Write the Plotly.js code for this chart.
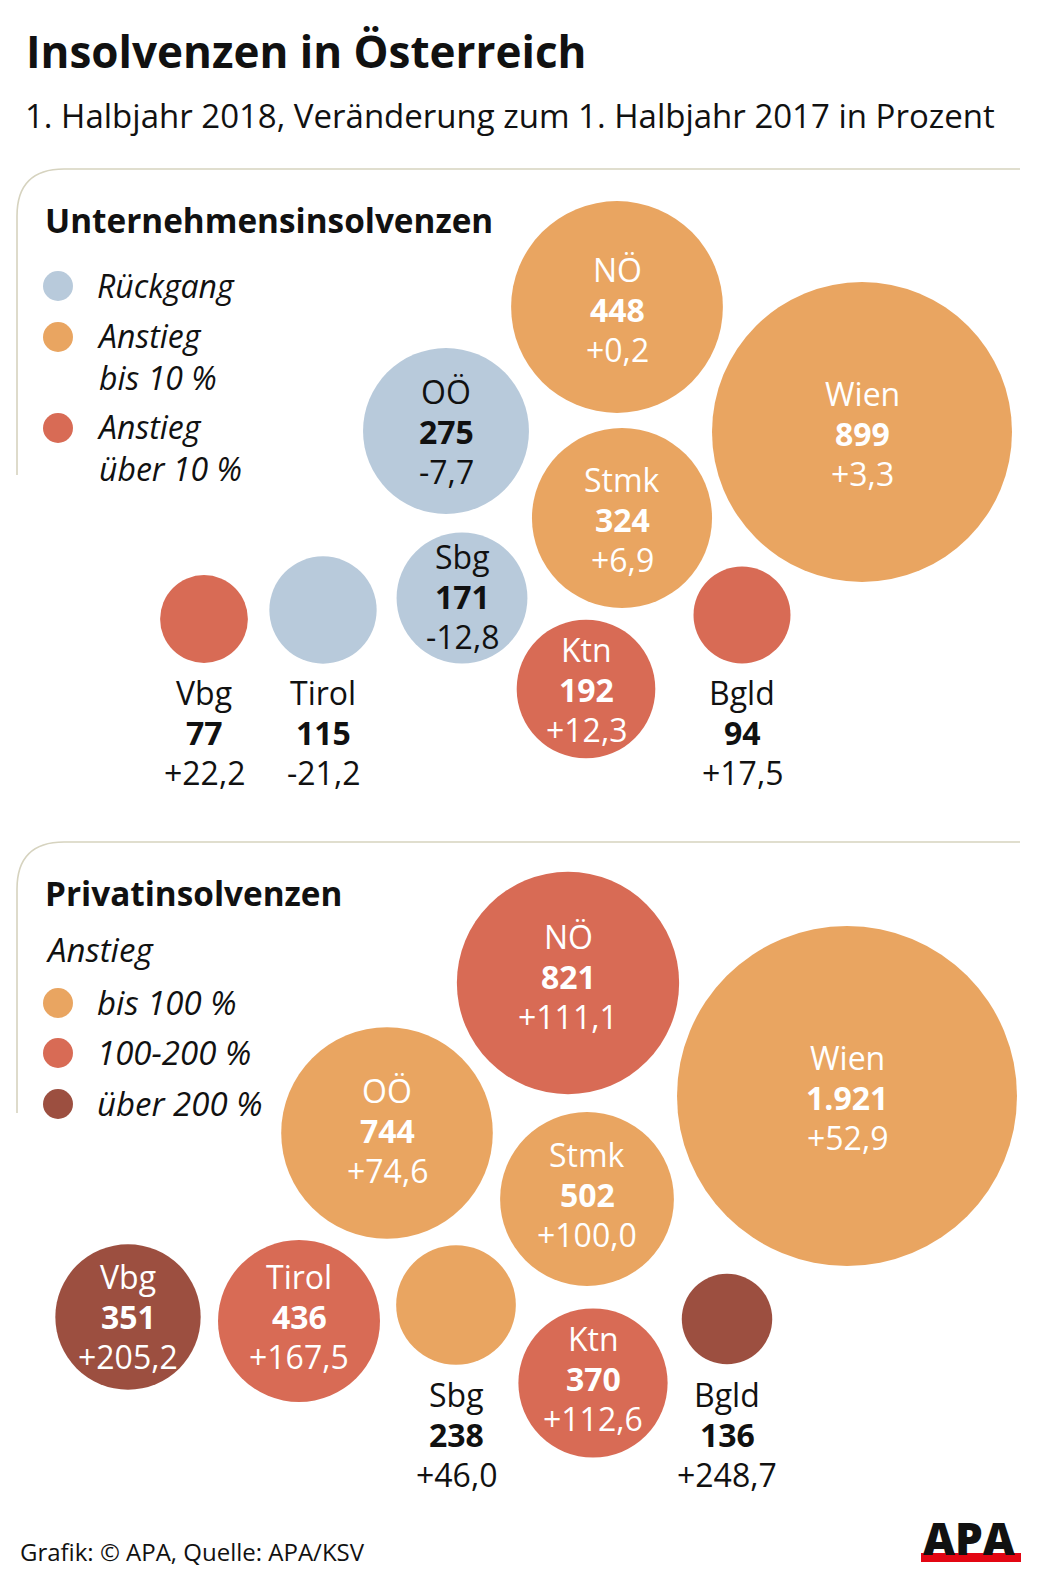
<!DOCTYPE html>
<html><head><meta charset="utf-8">
<script src="https://cdn.plot.ly/plotly-3.0.1.min.js"></script>
<style>html,body{margin:0;padding:0;background:#fff}#chart{width:1040px;height:1581px}</style>
</head><body><div id="chart"></div>
<script>
// ---------- data ----------
const regions = ['Wien','NÖ','OÖ','Stmk','Sbg','Ktn','Tirol','Vbg','Bgld'];
const firmCount = [899,448,275,324,171,192,115,77,94];
const firmChange = [3.3,0.2,-7.7,6.9,-12.8,12.3,-21.2,22.2,17.5];
const privCount = [1921,821,744,502,238,370,436,351,136];
const privChange = [52.9,111.1,74.6,100.0,46.0,112.6,167.5,205.2,248.7];

const titleText = 'Insolvenzen in Österreich';
const subtitleText = '1. Halbjahr 2018, Veränderung zum 1. Halbjahr 2017 in Prozent';
const firmHeading = 'Unternehmensinsolvenzen';
const privHeading = 'Privatinsolvenzen';
const firmLegend = [['Rückgang'],['Anstieg','bis 10 %'],['Anstieg','über 10 %']];
const privLegendTitle = 'Anstieg';
const privLegend = ['bis 100 %','100-200 %','über 200 %'];
const sourceText = 'Grafik: © APA, Quelle: APA/KSV';

// ---------- layout (pixel positions, styles) ----------
const W = 1040, H = 1581;
const FONT = '"Open Sans", "Noto Sans", sans-serif';
const C = {blue:'#b8cadb', orange:'#e9a561', red:'#d86b55', dark:'#9c4f40'};
const firmPos = {
  x:[862,617,446,622,462,586,323,204,742],
  y:[432,307,431,518,598,689,610,619,615],
  ly:[433,309,431,519,596,689,732,732,732],
  inside:[1,1,1,1,1,1,0,0,0]
};
const privPos = {
  x:[847,568,387,587,456,593,299,128,727],
  y:[1096,983,1133,1199,1305,1383,1321,1317,1319],
  ly:[1097,976,1130,1194,1434,1378,1316,1316,1434],
  inside:[1,1,1,1,0,1,1,1,0]
};
const firmScale = 300/Math.sqrt(899);
const privScale = 340/Math.sqrt(1921);
const LINE = 40;

function firmColor(c){ return c < 0 ? C.blue : (c <= 10 ? C.orange : C.red); }
function privColor(c){ return c <= 100 ? C.orange : (c <= 200 ? C.red : C.dark); }
function fmtCount(v){ return String(v).replace(/\B(?=(\d{3})+(?!\d))/g, '.'); }
function fmtChange(v){ return (v >= 0 ? '+' : '-') + Math.abs(v).toFixed(1).replace('.', ','); }

const annotations = [];
function txt(x, y, text, size, opts){
  opts = opts || {};
  annotations.push({
    x:x, y:y, xref:'x', yref:'y', text:text, showarrow:false,
    xanchor: opts.xanchor || 'center', yanchor:'middle', align: opts.xanchor || 'center',
    font:{family:FONT, size:size, color: opts.color || '#111', weight: opts.weight || 400, style: opts.style || 'normal'}
  });
}

function bubbleTrace(counts, changes, pos, scale, colorFn){
  const colors = changes.map(colorFn);
  counts.forEach((v, i) => {
    const col = pos.inside[i] ? (colors[i] === C.blue ? '#111' : '#fff') : '#111';
    const lx = pos.x[i], ly = pos.ly[i];
    txt(lx, ly - LINE, regions[i], 32, {color:col});
    txt(lx, ly, fmtCount(v), 32, {color:col, weight:700});
    txt(lx, ly + LINE, fmtChange(changes[i]), 32, {color:col});
  });
  return {
    type:'scatter', mode:'markers', x:pos.x, y:pos.y, hoverinfo:'skip',
    marker:{size:counts.map(v => Math.sqrt(v)*scale), sizemode:'diameter', sizeref:1,
            color:colors, line:{width:0}, opacity:1}
  };
}

const traces = [];
traces.push(bubbleTrace(firmCount, firmChange, firmPos, firmScale, firmColor));
traces.push(bubbleTrace(privCount, privChange, privPos, privScale, privColor));

// legends
const firmLegColors = [C.blue, C.orange, C.red];
const firmLegY = [286, 337, 428];
traces.push({type:'scatter', mode:'markers', x:[58,58,58], y:firmLegY, hoverinfo:'skip',
  marker:{size:30, color:firmLegColors, line:{width:0}}});
firmLegend.forEach((lines, i) => {
  const yMid = firmLegY[i] - 1 + (lines.length - 1) * 20;
  txt(95, yMid, lines.join('<br>'), 32, {xanchor:'left', style:'italic'});
});
const privLegColors = [C.orange, C.red, C.dark];
const privLegY = [1003, 1053, 1104];
traces.push({type:'scatter', mode:'markers', x:[58,58,58], y:privLegY, hoverinfo:'skip',
  marker:{size:30, color:privLegColors, line:{width:0}}});
txt(44, 949, privLegendTitle, 33, {xanchor:'left', style:'italic'});
privLegend.forEach((l, i) => txt(95, privLegY[i] - 1, l, 33, {xanchor:'left', style:'italic'}));

// headings & texts
txt(24, 51, titleText, 44, {xanchor:'left', weight:700});
txt(23, 115, subtitleText, 33, {xanchor:'left'});
txt(43, 220, firmHeading, 33.3, {xanchor:'left', weight:700});
txt(43, 893, privHeading, 33.3, {xanchor:'left', weight:700});
txt(18, 1551, sourceText, 24, {xanchor:'left'});
txt(969, 1538, 'APA', 44, {weight:800});

const frameColor = '#d6d3bf';
const shapes = [
  {type:'path', xref:'x', yref:'y', path:'M 17 475 L 17 216 Q 17 169 64 169 L 1020 169', line:{color:frameColor, width:1.6}},
  {type:'path', xref:'x', yref:'y', path:'M 17 1113 L 17 889 Q 17 842 64 842 L 1020 842', line:{color:frameColor, width:1.6}},
  {type:'rect', xref:'x', yref:'y', x0:921, x1:1021, y0:1553, y1:1562, fillcolor:'#e30613', line:{width:0}}
];

const layout = {
  width:W, height:H, margin:{l:0,r:0,t:0,b:0}, paper_bgcolor:'#fff', plot_bgcolor:'#fff',
  showlegend:false, hovermode:false,
  xaxis:{range:[0,W], visible:false, fixedrange:true},
  yaxis:{range:[H,0], visible:false, fixedrange:true},
  annotations:annotations, shapes:shapes
};
Plotly.newPlot('chart', traces, layout, {staticPlot:true, displayModeBar:false});
</script></body></html>
